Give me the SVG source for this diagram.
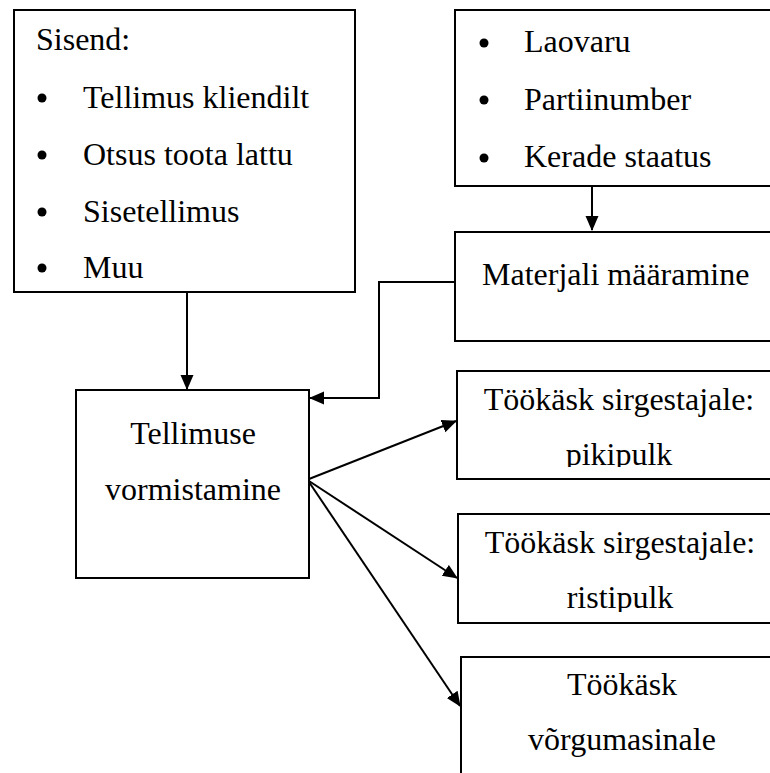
<svg xmlns="http://www.w3.org/2000/svg" width="770" height="773" viewBox="0 0 770 773">
<defs>
<marker id="ah" markerUnits="userSpaceOnUse" markerWidth="16" markerHeight="14" refX="14" refY="6.5" orient="auto">
<path d="M0,0 L15,6.5 L0,13 Z" fill="#000"/>
</marker>
<clipPath id="cp1"><rect x="457" y="371" width="320" height="96"/></clipPath>
<clipPath id="cp2"><rect x="458" y="514" width="320" height="98"/></clipPath>
</defs>
<g id="sisend">
<rect x="14" y="10" width="341" height="282" fill="#fff" stroke="#000" stroke-width="2"/>
<text x="36" y="50" font-family="Times New Roman" font-size="32">Sisend:</text>
<circle cx="42" cy="98" r="4.5"/><text x="83" y="108" font-family="Times New Roman" font-size="32">Tellimus kliendilt</text>
<circle cx="42" cy="155" r="4.5"/><text x="83" y="165" font-family="Times New Roman" font-size="32">Otsus toota lattu</text>
<circle cx="42" cy="212" r="4.5"/><text x="83" y="222" font-family="Times New Roman" font-size="32">Sisetellimus</text>
<circle cx="42" cy="268" r="4.5"/><text x="83" y="278" font-family="Times New Roman" font-size="32">Muu</text>
</g>
<g id="laovaru">
<rect x="455" y="10" width="330" height="176" fill="#fff" stroke="#000" stroke-width="2"/>
<circle cx="484" cy="43" r="4.5"/><text x="524" y="52" font-family="Times New Roman" font-size="32">Laovaru</text>
<circle cx="484" cy="100" r="4.5"/><text x="524" y="110" font-family="Times New Roman" font-size="32">Partiinumber</text>
<circle cx="484" cy="158" r="4.5"/><text x="524" y="167" font-family="Times New Roman" font-size="32">Kerade staatus</text>
</g>
<g id="materjal">
<rect x="455" y="232" width="330" height="109" fill="#fff" stroke="#000" stroke-width="2"/>
<text x="482" y="285" font-family="Times New Roman" font-size="32">Materjali m&#228;&#228;ramine</text>
</g>
<g id="tellimuse">
<rect x="76" y="390" width="233" height="188" fill="#fff" stroke="#000" stroke-width="2"/>
<text x="193" y="444" font-family="Times New Roman" font-size="32" text-anchor="middle">Tellimuse</text>
<text x="193" y="500" font-family="Times New Roman" font-size="32" text-anchor="middle">vormistamine</text>
</g>
<g id="pikipulk">
<rect x="457" y="371" width="330" height="108" fill="#fff" stroke="#000" stroke-width="2"/>
<g clip-path="url(#cp1)">
<text x="619" y="410" font-family="Times New Roman" font-size="32" text-anchor="middle">T&#246;&#246;k&#228;sk sirgestajale:</text>
<text x="619" y="465" font-family="Times New Roman" font-size="32" text-anchor="middle">pikipulk</text>
</g>
</g>
<g id="ristipulk">
<rect x="458" y="514" width="330" height="109" fill="#fff" stroke="#000" stroke-width="2"/>
<g clip-path="url(#cp2)">
<text x="620" y="553" font-family="Times New Roman" font-size="32" text-anchor="middle">T&#246;&#246;k&#228;sk sirgestajale:</text>
<text x="620" y="608" font-family="Times New Roman" font-size="32" text-anchor="middle">ristipulk</text>
</g>
</g>
<g id="vorgumasin">
<rect x="461" y="657" width="330" height="130" fill="#fff" stroke="#000" stroke-width="2"/>
<text x="622" y="695" font-family="Times New Roman" font-size="32" text-anchor="middle">T&#246;&#246;k&#228;sk</text>
<text x="622" y="750" font-family="Times New Roman" font-size="32" text-anchor="middle">v&#245;rgumasinale</text>
</g>
<g id="connectors" fill="none" stroke="#000" stroke-width="2">
<line x1="187" y1="292" x2="187" y2="389" marker-end="url(#ah)"/>
<line x1="592" y1="186" x2="592" y2="230" marker-end="url(#ah)"/>
<polyline points="455,282 379,282 379,398 310,398" marker-end="url(#ah)"/>
<line x1="309" y1="479" x2="456" y2="421" marker-end="url(#ah)"/>
<line x1="309" y1="481" x2="457" y2="578" marker-end="url(#ah)"/>
<line x1="309" y1="482" x2="460" y2="706" marker-end="url(#ah)"/>
</g>
</svg>
